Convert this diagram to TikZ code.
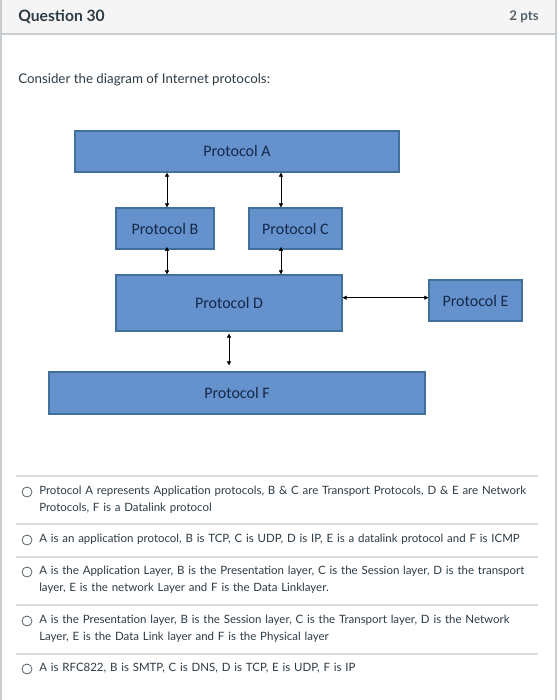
\documentclass[tikz,border=0pt]{standalone}
\usepackage{fontspec}
\setmainfont{Lato}
\newfontfamily\calibri{Carlito}
\usetikzlibrary{arrows.meta}
\definecolor{boxfill}{HTML}{6592CC}
\definecolor{boxline}{HTML}{41709C}
\definecolor{boxtext}{HTML}{14284A}
\definecolor{canvasline}{HTML}{C7CDD1}
\definecolor{canvastext}{HTML}{2D3B45}
\definecolor{headbg}{HTML}{F5F5F5}
\tikzset{
  protbox/.style={draw=boxline,fill=boxfill,line width=0.9pt,inner sep=0pt,
    text=boxtext,font=\calibri\fontsize{12pt}{14pt}\selectfont},
  link/.style={{Triangle[length=3pt,width=3pt]}-{Triangle[length=3pt,width=3pt]},line width=0.5pt},
  option/.style={anchor=north west,inner sep=0pt,text=canvastext,text width=370pt,
    font=\fontsize{8.6pt}{12.3pt}\selectfont,align=left},
  radio/.style={draw=canvastext!80,line width=0.6pt,circle,inner sep=0pt,minimum size=7.5pt}
}
\begin{document}
\begin{tikzpicture}[x=0.75pt,y=-0.75pt]
\useasboundingbox (0,0) rectangle (560,700);
\fill[white] (0,0) rectangle (560,700);
% header and frame
\fill[headbg] (1,0) rectangle (556,34);
\draw[canvasline,line width=1.5pt] (1,0) -- (1,700);
\draw[canvasline,line width=1.5pt] (556,0) -- (556,700);
\draw[canvasline,line width=1.2pt] (1,34) -- (556,34);
\node[anchor=west,inner sep=0pt,text=canvastext,font=\bfseries\fontsize{11.75pt}{13pt}\selectfont] (title) at (18,17) {Question 30};
\node[anchor=east,inner sep=0pt,text=canvastext!80,font=\bfseries\fontsize{10pt}{12pt}\selectfont] (pts) at (539,17) {2 pts};
\node[anchor=west,inner sep=0pt,text=canvastext,font=\fontsize{10pt}{12pt}\selectfont] (intro) at (18,80) {Consider the diagram of Internet protocols:};
% protocol boxes
\node[protbox,minimum width=243pt,minimum height=30.75pt] (protA) at (237,151.5) {Protocol A};
\node[protbox,minimum width=73.5pt,minimum height=30.75pt] (protB) at (165,228.5) {Protocol B};
\node[protbox,minimum width=69.75pt,minimum height=30.75pt] (protC) at (295.5,228.5) {Protocol C};
\node[protbox,minimum width=169.5pt,minimum height=42pt] (protD) at (229,303) {Protocol D};
\node[protbox,minimum width=69.75pt,minimum height=30.75pt] (protE) at (475.5,300.5) {Protocol E};
\node[protbox,minimum width=282pt,minimum height=31.5pt] (protF) at (237,393) {Protocol F};
% connectors
\draw[link] ([xshift=1.5pt]protB.north) -- ([xshift=1.5pt]protB.north |- protA.south);
\draw[link] ([xshift=-10.9pt]protC.north) -- ([xshift=-10.9pt]protC.north |- protA.south);
\draw[link] ([xshift=1.5pt]protD.north -| protB.south) -- ([xshift=1.5pt,yshift=2pt]protB.south);
\draw[link] ([xshift=-10.9pt]protD.north -| protC.south) -- ([xshift=-10.9pt,yshift=2pt]protC.south);
\draw[link] ([yshift=4pt]protD.east) -- ([yshift=4pt]protD.east -| protE.west);
\draw[link,shorten <=1.5pt,shorten >=4.5pt] (protD.south) -- (protD.south |- protF.north);
% answers
\foreach \y in {476,524,557,605,654}
  \draw[canvasline!70,line width=0.8pt] (16,\y) -- (538,\y);
\foreach \y/\name in {492/rA,540/rB,572/rC,621/rD,669/rE}
  \node[radio] (\name) at (27,\y) {};
\node[option] (optA) at (39,486) {Protocol A represents Application protocols, B \& C are Transport Protocols, D \& E are Network Protocols, F is a Datalink protocol};
\node[option] (optB) at (39,534) {A is an application protocol, B is TCP, C is UDP, D is IP, E is a datalink protocol and F is ICMP};
\node[option] (optC) at (39,566) {A is the Application Layer, B is the Presentation layer, C is the Session layer, D is the transport layer, E is the network Layer and F is the Data Linklayer.};
\node[option] (optD) at (39,615) {A is the Presentation layer, B is the Session layer, C is the Transport layer, D is the Network Layer, E is the Data Link layer and F is the Physical layer};
\node[option] (optE) at (39,663) {A is RFC822, B is SMTP, C is DNS, D is TCP, E is UDP, F is IP};
\end{tikzpicture}
\end{document}
